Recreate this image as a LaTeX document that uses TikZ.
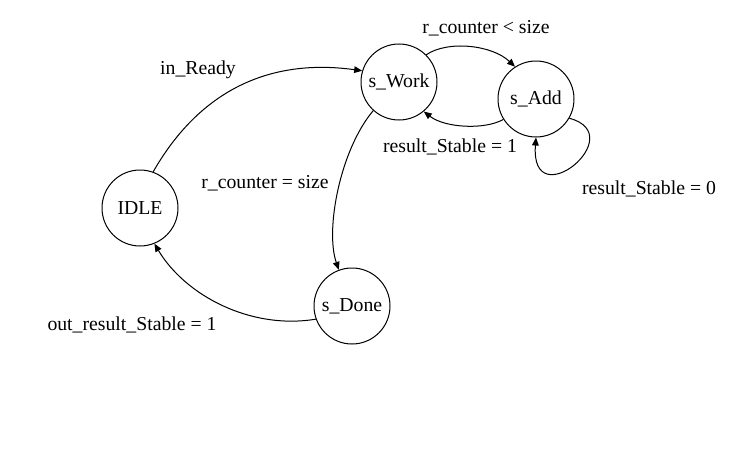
\documentclass[tikz,border=0pt]{standalone}
\usepackage{fontspec}
\setmainfont{Liberation Serif}
\usetikzlibrary{arrows.meta}
\usetikzlibrary{automata}
\usetikzlibrary{positioning}

\begin{document}
\begin{tikzpicture}[x=0.75pt, y=-0.75pt, font=\fontsize{14.8}{17}\selectfont,
  every state/.style={draw, line width=0.75pt, minimum size=57pt, inner sep=0pt},
  >={Triangle[length=6pt,width=5pt]}, line width=0.75pt]
  \useasboundingbox (0,0) rectangle (739,471);

  % FSM states
  \node[state] (IDLE)  at (140,208) {IDLE};
  \node[state] (sWork) at (399,82)  {s\_Work};
  \node[state] (sAdd)  at (536,99)  {s\_Add};
  \node[state] (sDone) at (352,306) {s\_Done};

  % transitions
  \draw[->] (IDLE.70) .. controls (200,90) and (270,58) .. (sWork.163);
  \draw[->] (sWork.45) .. controls (448,40) and (492,45) .. (sAdd.123);
  \draw[->] (sAdd.212) .. controls (485,130) and (445,128) .. (sWork.-50);
  \draw[->] (sAdd.-30) .. controls (632,135) and (530,218) .. (sAdd.-90);
  \draw[->] (sWork.-132) .. controls (340,150) and (325,230) .. (sDone.110);
  \draw[->] (sDone.200) .. controls (250,330) and (185,295) .. (IDLE.-68);

  % transition labels
  \node (lReady)   at (198,70)  {in\_Ready};
  \node (lLess)    at (486,28)  {r\_counter < size};
  \node (lStable1) at (450,147) {result\_Stable = 1};
  \node (lStable0) at (649,189) {result\_Stable = 0};
  \node (lEqual)   at (265,183) {r\_counter = size};
  \node (lOut)     at (132,325) {out\_result\_Stable = 1};
\end{tikzpicture}
\end{document}
